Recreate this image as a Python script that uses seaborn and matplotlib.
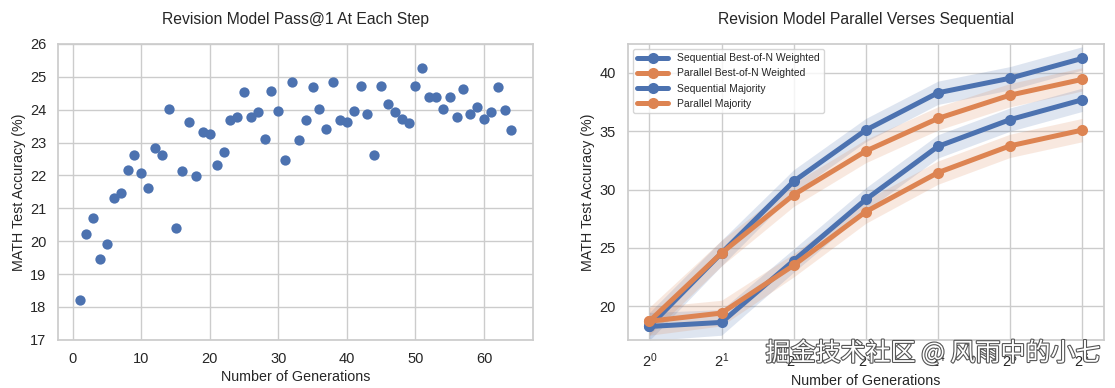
import matplotlib
matplotlib.use("Agg")
import matplotlib.pyplot as plt
import matplotlib.patheffects as pe
import numpy as np
import pandas as pd
import seaborn as sns

# left panel: pass@1 per revision step
steps = list(range(1, 65))
pass_at_1 = [
    18.21, 20.22, 20.72, 19.46, 19.91, 21.31, 21.47, 22.17, 22.62, 22.07,
    21.62, 22.83, 22.62, 24.02, 20.41, 22.12, 23.62, 21.97, 23.32, 23.27,
    22.32, 22.72, 23.67, 23.77, 24.53, 23.77, 23.92, 23.12, 24.57, 23.97,
    22.47, 24.83, 23.08, 23.68, 24.68, 24.02, 23.42, 24.83, 23.68, 23.63,
    23.97, 24.73, 23.87, 22.62, 24.73, 24.17, 23.93, 23.73, 23.58, 24.73,
    25.28, 24.38, 24.38, 24.02, 24.38, 23.78, 24.63, 23.87, 24.07, 23.73,
    23.93, 24.68, 23.98, 23.37,
]

# right panel: parallel vs sequential
generations = [1, 2, 4, 8, 16, 32, 64]
seq_bon = [18.25, 24.55, 30.70, 35.10, 38.30, 39.55, 41.25]
par_bon = [18.70, 24.55, 29.55, 33.30, 36.10, 38.10, 39.45]
seq_maj = [18.25, 18.60, 23.90, 29.15, 33.70, 36.00, 37.70]
par_maj = [18.70, 19.40, 23.50, 28.10, 31.45, 33.75, 35.10]
band = [1.2, 1.1, 1.0, 1.0, 1.0, 1.0, 1.0]

series_names = [
    "Sequential Best-of-N Weighted",
    "Parallel Best-of-N Weighted",
    "Sequential Majority",
    "Parallel Majority",
]
series_values = [seq_bon, par_bon, seq_maj, par_maj]

sns.set_theme(style="whitegrid", palette="deep")
plt.rcParams["font.family"] = ["Liberation Sans", "DejaVu Sans"]
blue, orange = sns.color_palette("deep")[0], sns.color_palette("deep")[1]
series_colors = [blue, orange, blue, orange]

fig = plt.figure(figsize=(11.15, 3.88), dpi=100)
ax1 = fig.add_axes([0.052, 0.124, 0.426, 0.763])
ax2 = fig.add_axes([0.563, 0.124, 0.427, 0.763])

sns.scatterplot(x=steps, y=pass_at_1, ax=ax1, color=blue, s=55, linewidth=0)
ax1.set_ylim(17, 26)
ax1.set_title("Revision Model Pass@1 At Each Step", fontsize=11.3, pad=14)
ax1.set_xlabel("Number of Generations", fontsize=10.3, labelpad=3)
ax1.set_ylabel("MATH Test Accuracy (%)", fontsize=10.3, labelpad=3)
ax1.tick_params(labelsize=10.5, pad=2.5)

rows = []
for name, vals in zip(series_names, series_values):
    for g, v in zip(generations, vals):
        rows.append({"gen": g, "acc": v, "series": name})
df = pd.DataFrame(rows)

sns.lineplot(data=df, x="gen", y="acc", hue="series", palette=series_colors,
             marker="o", markersize=8, markeredgewidth=0, linewidth=3.6,
             ax=ax2, errorbar=None)
for vals, col in zip(series_values, series_colors):
    lo = np.array(vals) - np.array(band)
    hi = np.array(vals) + np.array(band)
    ax2.fill_between(generations, lo, hi, color=col, alpha=0.18, linewidth=0)

ax2.set_xscale("log", base=2)
ax2.set_ylim(17.1, 42.5)
ax2.set_title("Revision Model Parallel Verses Sequential", fontsize=11.3, pad=14)
ax2.set_xlabel("Number of Generations", fontsize=10.3, labelpad=3)
ax2.set_ylabel("MATH Test Accuracy (%)", fontsize=10.3, labelpad=3)
ax2.tick_params(labelsize=10.5, pad=2.5)
ax2.legend(loc="upper left", fontsize=7.5, frameon=True, handlelength=3)

fig.text(0.987, 0.055, "掘金技术社区 @ 风雨中的小七", ha="right", va="bottom",
         fontsize=18, color="white", family=["Noto Sans CJK SC", "DejaVu Sans"],
         path_effects=[pe.withStroke(linewidth=1.6, foreground="#555555")])

fig.savefig("out.png", dpi=100)
